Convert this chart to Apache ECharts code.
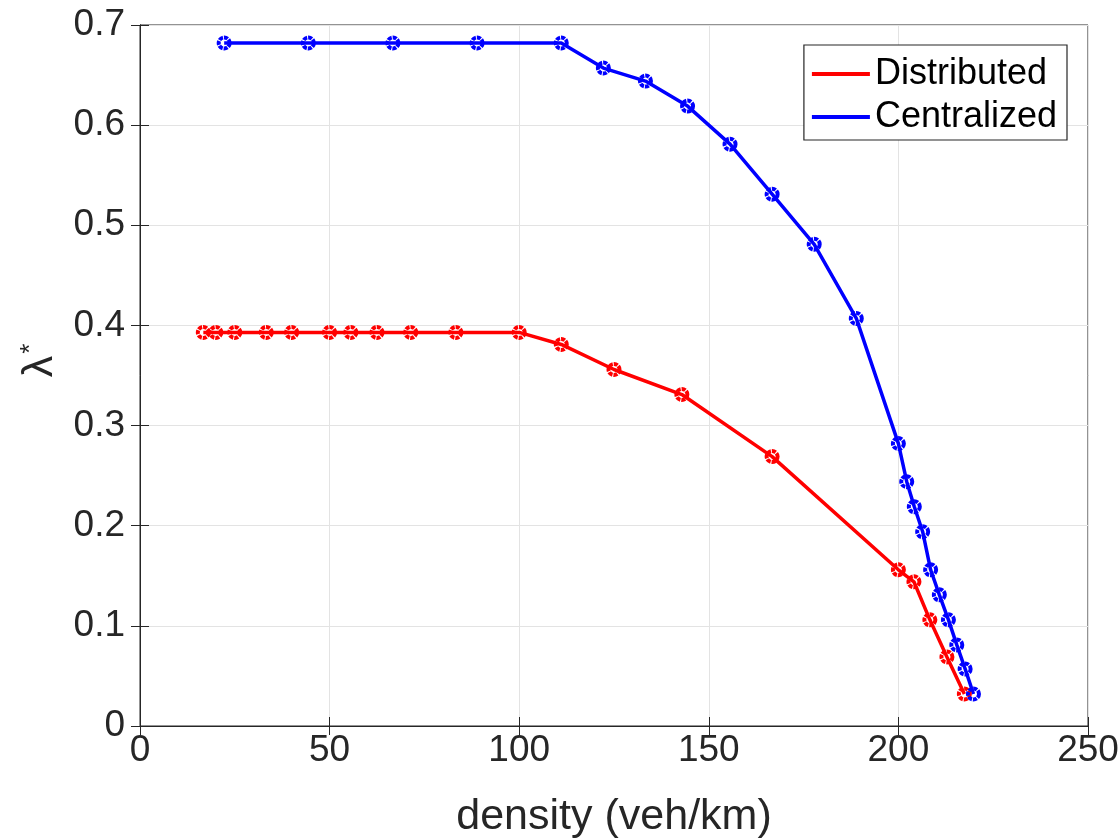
<!DOCTYPE html>
<html>
<head>
<meta charset="utf-8">
<script src="https://cdn.jsdelivr.net/npm/echarts@6/dist/echarts.min.js"></script>
<style>
  html, body { margin: 0; padding: 0; background: #fff; }
  #chart { width: 1120px; height: 840px; }
</style>
</head>
<body>
<div id="chart"></div>
<script>
// density (veh/km) and lambda*
var distX = [16.7, 20, 25, 33.3, 40, 50, 55.6, 62.5, 71.4, 83.3, 100, 111.1, 125, 142.9, 166.7, 200, 204.1, 208.3, 212.8, 217.4];
var distY = [0.393, 0.393, 0.393, 0.393, 0.393, 0.393, 0.393, 0.393, 0.393, 0.393, 0.393, 0.381, 0.356, 0.331, 0.269, 0.156, 0.144, 0.106, 0.069, 0.032];

var centX = [22.2, 44.4, 66.7, 88.9, 111.1, 122.2, 133.3, 144.4, 155.6, 166.7, 177.8, 188.9, 200, 202.2, 204.2, 206.4, 208.5, 210.8, 213.2, 215.4, 217.6, 219.8];
var centY = [0.682, 0.682, 0.682, 0.682, 0.682, 0.657, 0.644, 0.619, 0.581, 0.531, 0.481, 0.407, 0.282, 0.244, 0.219, 0.194, 0.156, 0.131, 0.106, 0.081, 0.057, 0.032];

var seriesNames = ['Distributed', 'Centralized'];
var seriesColors = ['#ff0000', '#0000ff'];

function pairs(xs, ys) {
    var out = [];
    for (var i = 0; i < xs.length; i++) {
        out.push([xs[i], ys[i]]);
    }
    return out;
}

var myChart = echarts.init(document.getElementById('chart'));
var fontFam = '"Liberation Sans", Arial, Helvetica, sans-serif';
var axisColor = '#262626';
var gridColor = '#e3e3e3';

function lineSeries(name, color, data) {
    return {
        name: name,
        type: 'line',
        data: data,
        symbol: 'circle',
        symbolSize: 11,
        lineStyle: { color: color, width: 3.5 },
        itemStyle: {
            color: 'rgba(0,0,0,0)',
            borderColor: color,
            borderWidth: 4,
            borderType: [4, 1]
        },
        emphasis: { disabled: true }
    };
}

// plain axis used only for the ticks on the top and right edges of the box
function boxAxis(pos, min, max, interval) {
    return {
        type: 'value', position: pos, min: min, max: max, interval: interval,
        axisLine: { show: true, lineStyle: { color: axisColor, width: 1 } },
        axisTick: { inside: true, length: 9, lineStyle: { color: axisColor } },
        axisLabel: { show: false },
        splitLine: { show: false }
    };
}

var option = {
    animation: false,
    backgroundColor: '#fff',
    textStyle: { fontFamily: fontFam },
    grid: {
        left: 140, right: 32, top: 25, bottom: 114,
        outerBoundsMode: 'none',
        containLabel: false,
        show: true,
        borderColor: axisColor,
        borderWidth: 1
    },
    legend: {
        orient: 'vertical',
        right: 53,
        top: 45,
        padding: [11, 10, 5, 8],
        borderColor: axisColor,
        borderWidth: 1.2,
        backgroundColor: '#fff',
        itemWidth: 58,
        itemHeight: 4,
        itemGap: 7,
        textStyle: { fontSize: 36, color: '#000', fontFamily: fontFam },
        data: [
            { name: seriesNames[0], icon: 'rect', itemStyle: { color: seriesColors[0], borderWidth: 0 } },
            { name: seriesNames[1], icon: 'rect', itemStyle: { color: seriesColors[1], borderWidth: 0 } }
        ]
    },
    xAxis: [{
        type: 'value',
        min: 0, max: 250, interval: 50,
        name: 'density (veh/km)',
        nameLocation: 'middle',
        nameGap: 70,
        nameTextStyle: { fontSize: 43, color: axisColor },
        axisLine: { lineStyle: { color: axisColor, width: 1 } },
        axisTick: { inside: true, length: 9, lineStyle: { color: axisColor } },
        axisLabel: { fontSize: 37, color: axisColor, margin: 6 },
        splitLine: { show: true, lineStyle: { color: gridColor, width: 1 } }
    }, boxAxis('top', 0, 250, 50)],
    yAxis: [{
        type: 'value',
        min: 0, max: 0.7, interval: 0.1,
        name: '{l|λ}{s|*}',
        nameLocation: 'middle',
        nameRotate: 90,
        nameGap: 78,
        nameTextStyle: {
            color: axisColor,
            padding: [0, 0, 0, 30],
            rich: {
                l: { fontSize: 43, color: axisColor },
                s: { fontSize: 26, color: axisColor, verticalAlign: 'top', padding: [0, 0, 18, 2] }
            }
        },
        axisLine: { lineStyle: { color: axisColor, width: 1 } },
        axisTick: { inside: true, length: 9, lineStyle: { color: axisColor } },
        axisLabel: {
            fontSize: 37, color: axisColor, margin: 15,
            formatter: function (v) { return v === 0 ? '0' : v.toFixed(1); }
        },
        splitLine: { show: true, lineStyle: { color: gridColor, width: 1 } }
    }, boxAxis('right', 0, 0.7, 0.1)],
    series: [
        lineSeries(seriesNames[0], seriesColors[0], pairs(distX, distY)),
        lineSeries(seriesNames[1], seriesColors[1], pairs(centX, centY))
    ]
};

myChart.setOption(option);
</script>
</body>
</html>
